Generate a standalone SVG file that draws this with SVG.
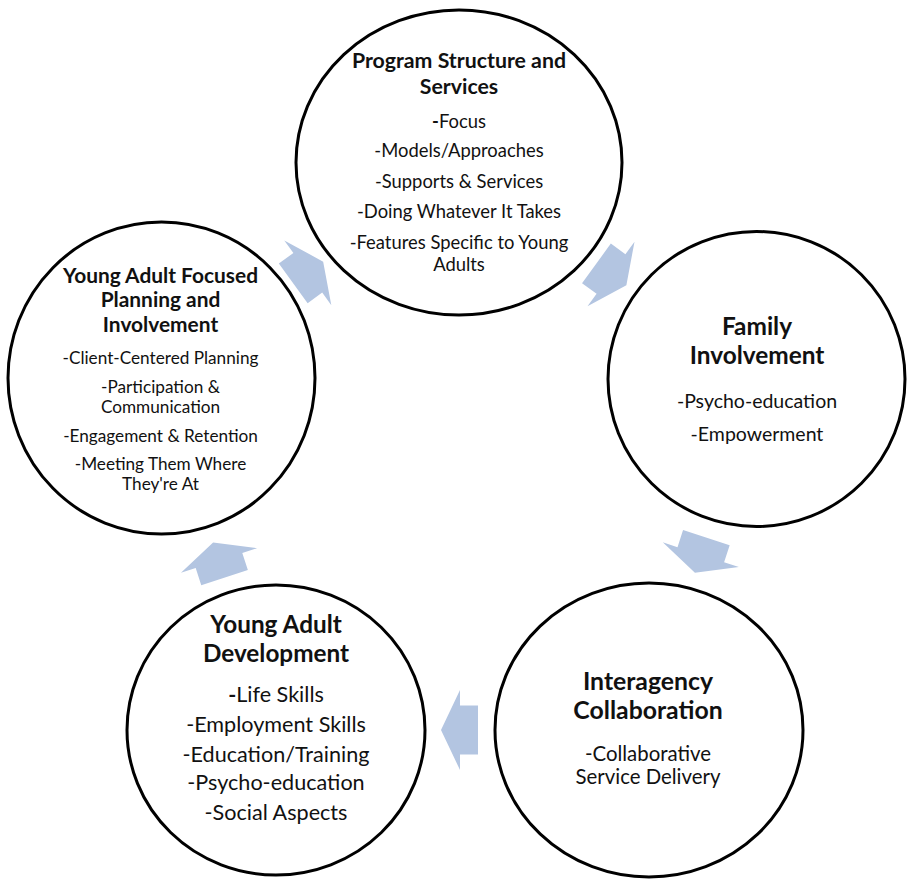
<svg xmlns="http://www.w3.org/2000/svg" width="911" height="880" viewBox="0 0 911 880">
<style>
.c{fill:#fff;stroke:#000;stroke-width:3}
.arr{fill:#b3c5e1}
text{font-family:Lato,"Liberation Sans",sans-serif;fill:#111;text-anchor:middle}
.b{font-weight:bold}
.d{font-weight:bold}
</style>
<defs>
<path id="ar" d="M-18,-24.5 H0 V-40 L19,0 L0,40 V24.5 H-18 Z"/>
</defs>
<g id="connectors">
<use href="#ar" class="arr" transform="translate(611,274) rotate(36)"/>
<use href="#ar" class="arr" transform="translate(700.8,554.7) rotate(108)"/>
<use href="#ar" class="arr" transform="translate(460,730) rotate(180)"/>
<use href="#ar" class="arr" transform="translate(219,560.5) rotate(252)"/>
<use href="#ar" class="arr" transform="translate(307.8,272.8) rotate(-36)"/>
</g>
<g id="program">
<ellipse class="c" cx="459" cy="162.5" rx="163" ry="152.5"/>
<text class="b" font-size="21.3"><tspan x="459" y="68">Program Structure and</tspan><tspan x="459" y="94">Services</tspan></text>
<text font-size="18.4"><tspan x="459" y="128"><tspan class="d">-</tspan>Focus</tspan><tspan x="459" y="157">-Models/Approaches</tspan><tspan x="459" y="188">-Supports &amp; Services</tspan><tspan x="459" y="218">-Doing Whatever It Takes</tspan><tspan x="459" y="249">-Features Specific to Young</tspan><tspan x="459" y="271">Adults</tspan></text>
</g>
<g id="family">
<ellipse class="c" cx="756.5" cy="379" rx="148.5" ry="147.5"/>
<text class="b" font-size="24.4"><tspan x="757" y="335">Family</tspan><tspan x="757" y="364">Involvement</tspan></text>
<text font-size="19.5"><tspan x="757" y="408">-Psycho-education</tspan><tspan x="757" y="441">-Empowerment</tspan></text>
</g>
<g id="interagency">
<ellipse class="c" cx="649" cy="730" rx="154" ry="147"/>
<text class="b" font-size="24.8"><tspan x="648" y="690">Interagency</tspan><tspan x="648" y="719">Collaboration</tspan></text>
<text font-size="20.4"><tspan x="648" y="761">-Collaborative</tspan><tspan x="648" y="784">Service Delivery</tspan></text>
</g>
<g id="development">
<ellipse class="c" cx="276" cy="730" rx="149" ry="145"/>
<text class="b" font-size="24.3"><tspan x="276" y="633">Young Adult</tspan><tspan x="276" y="662">Development</tspan></text>
<text font-size="21.6"><tspan x="276" y="702"><tspan class="d">-</tspan>Life Skills</tspan><tspan x="276" y="732">-Employment Skills</tspan><tspan x="276" y="762">-Education/Training</tspan><tspan x="276" y="790">-Psycho-education</tspan><tspan x="276" y="820">-Social Aspects</tspan></text>
</g>
<g id="planning">
<ellipse class="c" cx="161.5" cy="378" rx="153.5" ry="156"/>
<text class="b" font-size="20.9"><tspan x="160.5" y="283">Young Adult Focused</tspan><tspan x="160.5" y="307">Planning and</tspan><tspan x="160.5" y="332">Involvement</tspan></text>
<text font-size="17.2"><tspan x="160.5" y="364">-Client-Centered Planning</tspan><tspan x="160.5" y="393">-Participation &amp;</tspan><tspan x="160.5" y="413">Communication</tspan><tspan x="160.5" y="442">-Engagement &amp; Retention</tspan><tspan x="160.5" y="470">-Meeting Them Where</tspan><tspan x="160.5" y="490">They're At</tspan></text>
</g>
</svg>
